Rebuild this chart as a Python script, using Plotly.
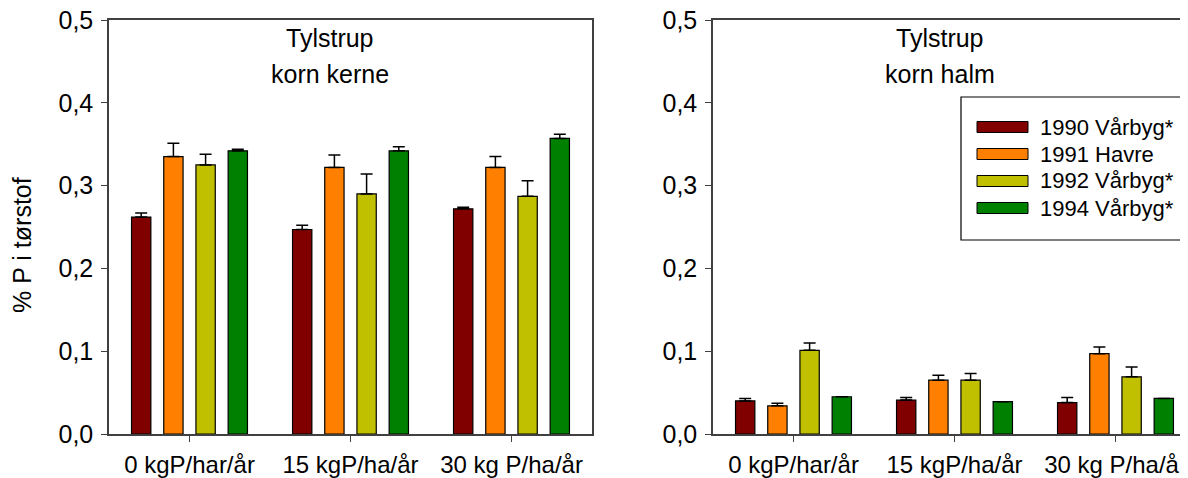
import plotly.graph_objects as go

# ---------------- data ----------------
categories = ["0 kgP/har/år", "15 kgP/ha/år", "30 kg P/ha/år"]
series_names = ["1990 Vårbyg*", "1991 Havre", "1992 Vårbyg*", "1994 Vårbyg*"]
series_colors = ["#800000", "#FF8000", "#C0C000", "#008000"]

kerne_1990 = [0.262, 0.247, 0.272]
kerne_1991 = [0.335, 0.322, 0.322]
kerne_1992 = [0.325, 0.290, 0.287]
kerne_1994 = [0.342, 0.342, 0.357]
kerne_err_1990 = [0.005, 0.005, 0.002]
kerne_err_1991 = [0.016, 0.015, 0.013]
kerne_err_1992 = [0.013, 0.024, 0.019]
kerne_err_1994 = [0.002, 0.005, 0.005]

halm_1990 = [0.040, 0.041, 0.038]
halm_1991 = [0.034, 0.065, 0.097]
halm_1992 = [0.101, 0.065, 0.069]
halm_1994 = [0.045, 0.039, 0.043]
halm_err_1990 = [0.003, 0.003, 0.006]
halm_err_1991 = [0.003, 0.006, 0.008]
halm_err_1992 = [0.009, 0.008, 0.012]
halm_err_1994 = [0.0, 0.0, 0.0]

y_tickvals = [0.0, 0.1, 0.2, 0.3, 0.4, 0.5]
y_title = "% P i tørstof"
title_left = ["Tylstrup", "korn kerne"]
title_right = ["Tylstrup", "korn halm"]

# ---------------- figure ----------------
W, H = 1188, 478
OFF = 8  # page body margin offset of the plot div
FONT = "Liberation Sans, Arial, sans-serif"

def px_x(p):
    return (p - OFF) / W

def px_y(p):
    return 1 - (p - OFF) / H

fig = go.Figure()

kerne = [kerne_1990, kerne_1991, kerne_1992, kerne_1994]
kerne_err = [kerne_err_1990, kerne_err_1991, kerne_err_1992, kerne_err_1994]
halm = [halm_1990, halm_1991, halm_1992, halm_1994]
halm_err = [halm_err_1990, halm_err_1991, halm_err_1992, halm_err_1994]

for vals, errs, name, col in zip(kerne, kerne_err, series_names, series_colors):
    fig.add_trace(go.Bar(
        x=categories, y=vals, name=name, marker_color=col,
        marker_line=dict(color="black", width=1.2),
        error_y=dict(type="data", array=errs, arrayminus=[0] * len(errs),
                     symmetric=False, color="black", thickness=1.5, width=6),
        xaxis="x", yaxis="y", showlegend=False,
    ))

for vals, errs, name, col in zip(halm, halm_err, series_names, series_colors):
    fig.add_trace(go.Bar(
        x=categories, y=vals, name=name, marker_color=col,
        marker_line=dict(color="black", width=1.2),
        error_y=dict(type="data", array=errs, arrayminus=[0] * len(errs),
                     symmetric=False, color="black", thickness=1.5, width=6),
        xaxis="x2", yaxis="y2", showlegend=False,
    ))

def axis_style(size, standoff):
    return dict(showline=True, linecolor="#404040", linewidth=1.5,
                showgrid=False, zeroline=False, ticks="outside",
                ticklen=6, tickcolor="#404040", tickwidth=1.2,
                automargin=False, ticklabelstandoff=standoff,
                ticklabeloverflow="allow",
                tickfont=dict(family=FONT, size=size, color="black"))

ydom = [px_y(434), px_y(20)]

fig.update_layout(
    template="none",
    width=W, height=H, autosize=False,
    margin=dict(l=0, r=0, t=0, b=0, pad=0),
    paper_bgcolor="white", plot_bgcolor="white",
    separators=",.",
    barmode="group", bargap=0.2, bargroupgap=0.4,
    showlegend=False,
    font=dict(family=FONT, size=24, color="black"),
    xaxis=dict(domain=[px_x(109), px_x(592)], range=[-0.5, 2.5],
               type="category", mirror=True, anchor="y", **axis_style(24, 2)),
    yaxis=dict(domain=ydom, range=[0, 0.5], tickvals=y_tickvals,
               tickformat=".1f", mirror=True, anchor="x", **axis_style(25, 3)),
    xaxis2=dict(domain=[px_x(713), 1.0], range=[-0.5, 2.5],
                type="category", mirror=True, anchor="y2", **axis_style(24, 2)),
    yaxis2=dict(domain=ydom, range=[0, 0.5], tickvals=y_tickvals,
                tickformat=".1f", mirror=False, anchor="x2", **axis_style(25, 3)),
)

# panel titles (one annotation per line)
for cx, lines in ((330, title_left), (940, title_right)):
    for ty, line in zip((38, 74), lines):
        fig.add_annotation(text=line, x=px_x(cx), y=px_y(ty), xref="paper", yref="paper",
                           showarrow=False, xanchor="center", yanchor="middle",
                           font=dict(family=FONT, size=25, color="black"))

# y-axis title
fig.add_annotation(text=y_title, x=px_x(22), y=px_y(245), xref="paper", yref="paper",
                   showarrow=False, textangle=-90, xanchor="center", yanchor="middle",
                   font=dict(family=FONT, size=25, color="black"))

# legend box (drawn manually to get wide swatches)
fig.add_shape(type="rect", xref="paper", yref="paper",
              x0=px_x(961), x1=px_x(1200), y0=px_y(240), y1=px_y(97),
              line=dict(color="black", width=1.2), fillcolor="white", layer="above")
row_y = [127, 154, 181, 208]
for name, col, ry in zip(series_names, series_colors, row_y):
    fig.add_shape(type="rect", xref="paper", yref="paper",
                  x0=px_x(977), x1=px_x(1028), y0=px_y(ry + 5.5), y1=px_y(ry - 5.5),
                  line=dict(color="black", width=1), fillcolor=col, layer="above")
    fig.add_annotation(text=name, x=px_x(1038), y=px_y(ry), xref="paper", yref="paper",
                       showarrow=False, xanchor="left", yanchor="middle",
                       font=dict(family=FONT, size=22, color="black"))

fig.write_html("out.html")
